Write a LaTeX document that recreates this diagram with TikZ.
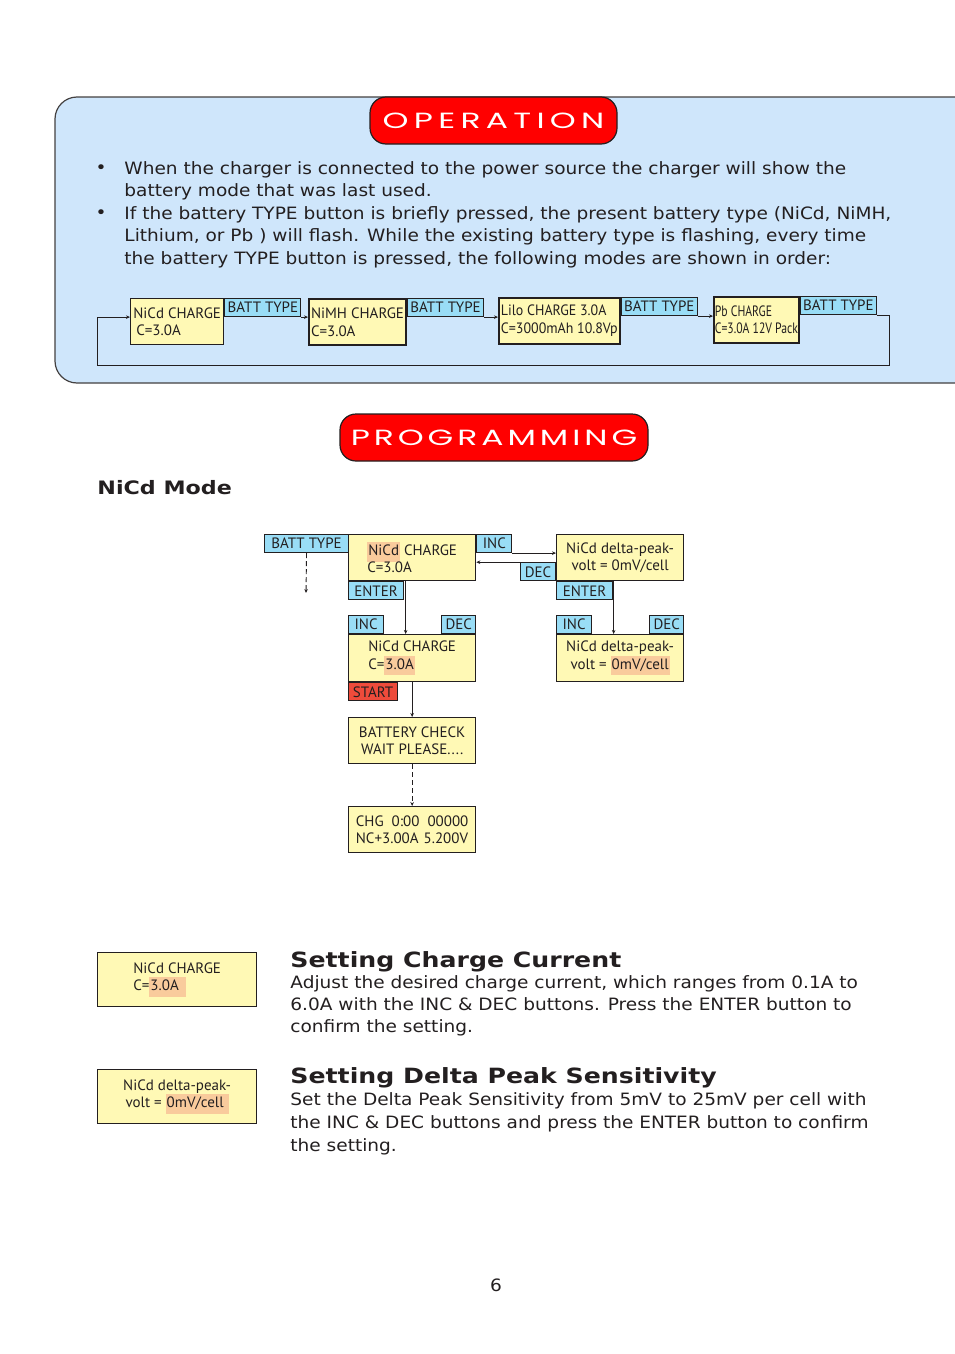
\documentclass[tikz,border=0pt]{standalone}
\usepackage{fontspec}
\usepackage{xcolor}
\usetikzlibrary{positioning,arrows.meta,calc}
\setmainfont{DejaVu Sans}[FakeStretch=1.09, BoldFeatures={FakeStretch=1.2}]
\newfontfamily\lcdfont{PT Sans}
\newfontfamily\lcdslim[FakeStretch=0.93]{PT Sans}
\newfontfamily\lcdnarrow[FakeStretch=0.78]{PT Sans}
\newfontfamily\bannerfont[FakeStretch=1.5, LetterSpace=24]{Poppins}
\newfontfamily\bannertight[FakeStretch=1.5, LetterSpace=18]{Poppins}
\definecolor{panelblue}{HTML}{CFE6FB}
\definecolor{lcdyel}{HTML}{FFF9B5}
\definecolor{keyblue}{HTML}{99DDF6}
\definecolor{hlorange}{HTML}{F9CB9C}
\definecolor{startred}{HTML}{EE4B3B}
\definecolor{bannerred}{HTML}{FF0000}
\definecolor{ink}{HTML}{231F20}
\newcommand{\hl}[1]{{\setlength{\fboxsep}{1pt}\colorbox{hlorange}{\strut#1}}}
\newcommand{\lines}[1]{\parbox[t]{780pt}{\raggedright#1}}

\begin{document}
\begin{tikzpicture}[x=1pt, y=-1pt, >={Stealth[length=4pt,width=3.5pt]}, line width=0.9pt, draw=ink,
  lcd/.style={draw=ink, fill=lcdyel, line width=1.3pt, text=ink, inner sep=1pt,
    font=\lcdfont\fontsize{15}{17.5}\selectfont},
  key/.style={draw=ink, fill=keyblue, line width=1.1pt, text=ink, inner sep=1pt,
    minimum height=18, font=\lcdfont\fontsize{15}{16}\selectfont},
  banner/.style={draw=ink, fill=bannerred, line width=1.2pt, rounded corners=16, text=white,
    minimum height=47, font=\bannerfont\fontsize{22}{22}\selectfont},
  body/.style={text=ink, inner sep=0pt, anchor=base west, font=\fontsize{17}{22.6}\selectfont},
  heading/.style={text=ink, inner sep=0pt, anchor=base west, font=\bfseries\fontsize{21}{24}\selectfont},
  flow/.style={dash pattern=on 5pt off 3pt}]
\fill[white] (0,0) rectangle (954,1354);
\useasboundingbox (0,0) rectangle (954,1354);

% operation panel
\draw[fill=panelblue, draw=ink!85, line width=1.2pt, rounded corners=22]
  (990,97) -- (55,97) -- (55,383) -- (990,383);
\node[banner, minimum width=247] (opbanner) at (493.5,120.5) {OPERATION};

\node[text=ink, font=\fontsize{17}{20}\selectfont] (dot1) at (101,169) {\textbullet};
\node[body] (para1) at (124,174) {\lines{When the charger is connected to the power source the charger will show the\\
  battery mode that was last used.}};
\node[text=ink, font=\fontsize{17}{20}\selectfont] (dot2) at (101,214) {\textbullet};
\node[body] (para2) at (124,219) {\lines{If the battery TYPE button is briefly pressed, the present battery type (NiCd, NiMH,\\
  Lithium, or Pb ) will flash. While the existing battery type is flashing, every time\\
  the battery TYPE button is pressed, the following modes are shown in order:}};

% battery type cycle
\newcommand{\mode}[6]{%
  \node[lcd, anchor=north west, minimum width=#4, minimum height=46, align=left, line width=#5] (#1) at (#2,#3) {#6};
  \node[key, anchor=north west, minimum width=76] (#1key) at (#1.north east) {BATT TYPE};}
\mode{nicd}{130}{298}{93}{1.3pt}{NiCd CHARGE\\\hspace{3pt}C=3.0A}
\mode{nimh}{308}{298}{97}{2pt}{NiMH CHARGE\\C=3.0A}
\mode{lilo}{498}{297}{121}{1.7pt}{\lcdslim Lilo CHARGE 3.0A\\\lcdslim C=3000mAh 10.8Vp}
\mode{pb}{713}{296}{85}{1.7pt}{\lcdnarrow Pb CHARGE\\\lcdnarrow C=3.0A 12V Pack}
\foreach \a/\b in {nicd/nimh, nimh/lilo, lilo/pb}
  \draw[->] (\a key.south east) -- (\a key.south east -| \b.west);
\coordinate (loopr) at (889,365);
\coordinate (loopl) at (97,365);
\draw[->] (pbkey.south east) -| (loopr) -- (loopl) |- (nicd.west |- nicdkey.south);

% programming
\node[banner, minimum width=308, font=\bannertight\fontsize{22}{22}\selectfont] (progbanner) at (494,437.5) {PROGRAMMING};
\node[heading, font=\bfseries\fontsize{18.5}{22}\selectfont] (modetitle) at (97,494) {NiCd Mode};

\node[key, anchor=north west, minimum width=84] (battkey) at (264,534) {BATT TYPE};
\node[lcd, anchor=north west, minimum width=127, minimum height=46, align=left] (chgbox) at (348,534) {\hl{NiCd} CHARGE\\C=3.0A};
\node[key, anchor=north west, minimum width=35] (incA) at (chgbox.north east) {INC};
\node[lcd, anchor=north west, minimum width=127, minimum height=46, align=center] (peakbox) at (556,534) {NiCd delta-peak-\\volt = 0mV/cell};
\node[key, anchor=south east, minimum width=35] (decA) at (peakbox.south west) {DEC};
\node[key, anchor=north west, minimum width=55] (enterA) at (chgbox.south west) {ENTER};
\node[key, anchor=north west, minimum width=56] (enterB) at (peakbox.south west) {ENTER};
\coordinate (battend) at (306,593);
\draw[->, flow] (battkey.south) -- (battend);
\draw[->] (incA.south east) -- (incA.south east -| peakbox.west);
\draw[->] (peakbox.west |- decA.north) -- (chgbox.east |- decA.north);

\node[lcd, anchor=north west, minimum width=127, minimum height=47, align=left] (setbox) at (348,634) {NiCd CHARGE\\C=\hl{3.0A}};
\node[key, anchor=south west, minimum width=35] (incC) at (setbox.north west) {INC};
\node[key, anchor=south east, minimum width=34] (decC) at (setbox.north east) {DEC};
\node[key, fill=startred, anchor=north west, minimum width=49] (startkey) at (setbox.south west) {START};
\draw[->] ($(chgbox.south)+(-6.5,0)$) -- ($(setbox.north)+(-6.5,0)$);

\node[lcd, anchor=north west, minimum width=127, minimum height=47, align=center] (peakset) at (556,634) {NiCd delta-peak-\\volt = \hl{0mV/cell}};
\node[key, anchor=south west, minimum width=35] (incF) at (peakset.north west) {INC};
\node[key, anchor=south east, minimum width=34] (decF) at (peakset.north east) {DEC};
\draw[->] ($(peakbox.south)+(-6.5,0)$) -- ($(peakset.north)+(-6.5,0)$);

\node[lcd, anchor=north west, minimum width=127, minimum height=46, align=center] (checkbox) at (348,717) {BATTERY CHECK\\WAIT PLEASE....};
\draw[->] (setbox.south) -- (checkbox.north);
\node[lcd, anchor=north west, minimum width=127, minimum height=46, align=left] (runbox) at (348,806) {CHG\hspace{8pt}0:00\hspace{8pt}00000\\NC+3.00A\hspace{5pt}5.200V};
\draw[->, flow] (checkbox.south) -- (runbox.north);

% settings
\node[lcd, anchor=north west, minimum width=159, minimum height=54, align=left] (chgsample) at (97,952) {NiCd CHARGE\\C=\hl{3.0A\hspace{6pt}}};
\node[heading] (chgtitle) at (290,967) {Setting Charge Current};
\node[body, font=\fontsize{17}{22}\selectfont] (chgtext) at (290,988) {\lines{Adjust the desired charge current, which ranges from 0.1A to\\
  6.0A with the INC \& DEC buttons. Press the ENTER button to\\confirm the setting.}};
\node[lcd, anchor=north west, minimum width=159, minimum height=54, align=center] (peaksample) at (97,1069) {NiCd delta-peak-\\volt = \hl{0mV/cell\hspace{4pt}}};
\node[heading] (peaktitle) at (290,1083) {Setting Delta Peak Sensitivity};
\node[body, font=\fontsize{17}{23}\selectfont] (peaktext) at (290,1105) {\lines{Set the Delta Peak Sensitivity from 5mV to 25mV per cell with\\
  the INC \& DEC buttons and press the ENTER button to confirm\\the setting.}};

\node[text=ink, font=\fontsize{17}{20}\selectfont] (pagenum) at (496,1285) {6};
\end{tikzpicture}
\end{document}
